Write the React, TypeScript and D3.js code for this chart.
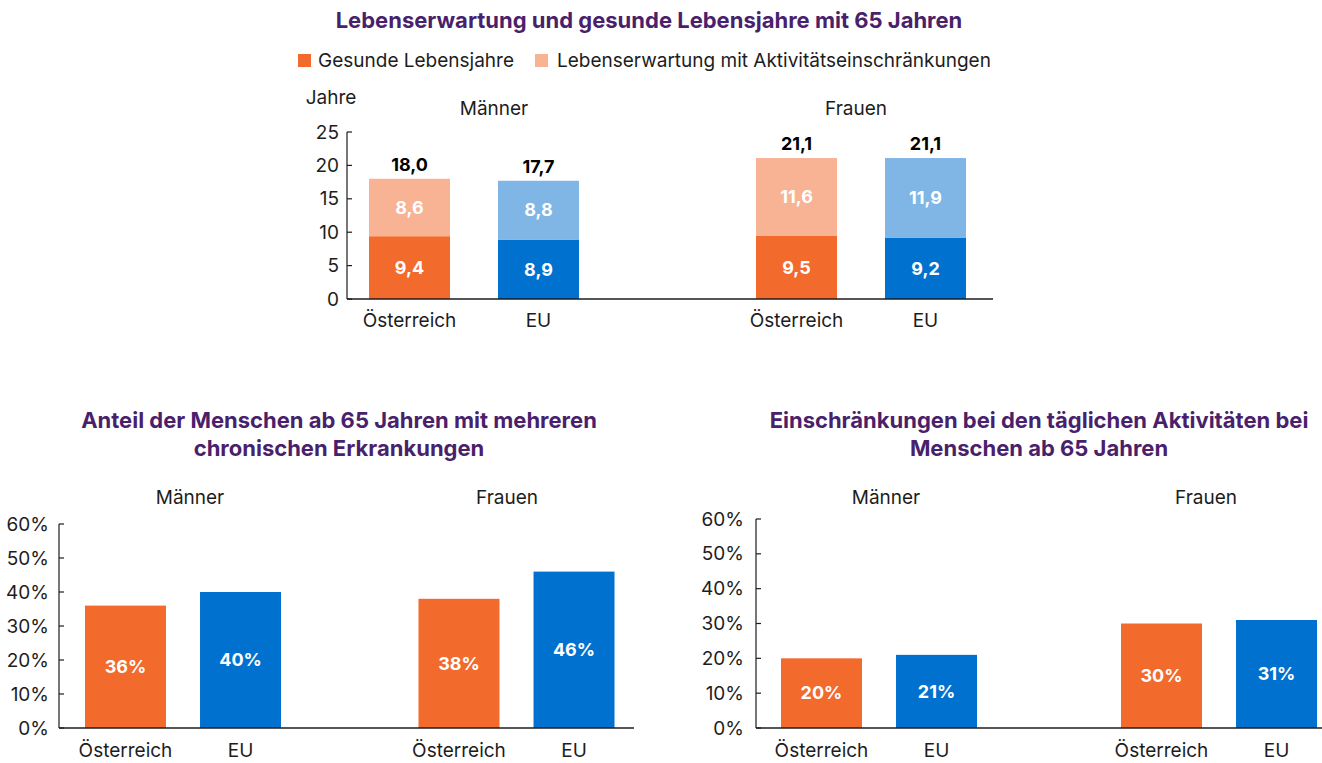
import React from "react";
import * as d3 from "d3";

// ---------- data ----------
const categories = ["Österreich", "EU"];
const sexes = ["Männer", "Frauen"];

const healthyYearsMen = [9.4, 8.9];
const healthyYearsWomen = [9.5, 9.2];
const limitedYearsMen = [8.6, 8.8];
const limitedYearsWomen = [11.6, 11.9];

const chronicMen = [36, 40];
const chronicWomen = [38, 46];

const limitationMen = [20, 21];
const limitationWomen = [30, 31];

const yearTicks = [0, 5, 10, 15, 20, 25];
const pctTicks = [0, 10, 20, 30, 40, 50, 60];

const topTitle = "Lebenserwartung und gesunde Lebensjahre mit 65 Jahren";
const legendLabels = ["Gesunde Lebensjahre", "Lebenserwartung mit Aktivitätseinschränkungen"];
const leftTitle = ["Anteil der Menschen ab 65 Jahren mit mehreren", "chronischen Erkrankungen"];
const rightTitle = ["Einschränkungen bei den täglichen Aktivitäten bei", "Menschen ab 65 Jahren"];

// ---------- style ----------
const FONT = "Inter, Roboto, 'Noto Sans', sans-serif";
const PURPLE = "#4a1f6b";
const TEXT = "#1d1d1d";
const ORANGE = "#f26a2c";
const ORANGE_LIGHT = "#f8b294";
const BLUE = "#0071ce";
const BLUE_LIGHT = "#80b6e6";
const mainColors = [ORANGE, BLUE];
const lightColors = [ORANGE_LIGHT, BLUE_LIGHT];
const FS = 19;
const BFS = 18;
const TFS = 22;

const fmt = (v: number) => d3.format(".1f")(v).replace(".", ",");

function YAxis({ y, x, ticks, fmtTick, pad }: any) {
  const [r0, r1] = y.range();
  return (
    <g>
      <line x1={x} x2={x} y1={r0} y2={r1} stroke={TEXT} strokeWidth={1.2} />
      {ticks.map((t: number) => (
        <g key={t}>
          <line x1={x} x2={x + 5} y1={y(t)} y2={y(t)} stroke={TEXT} strokeWidth={1.2} />
          <text x={x - pad} y={y(t)} dy="0.35em" textAnchor="end" fontSize={FS} fill={TEXT} fontFamily={FONT}>
            {fmtTick(t)}
          </text>
        </g>
      ))}
    </g>
  );
}

function PercentPanel({ title, titleX, menVals, womenVals, axisX, axisEnd, yTop, groupCenters, groupLabelX, pad }: any) {
  const y = d3.scaleLinear().domain([0, 60]).range([728, yTop]);
  const outer = d3.scalePoint<string>().domain(sexes).range(groupCenters);
  const inner = d3.scaleBand<string>().domain(categories).range([-98, 98]).paddingInner(0.296).paddingOuter(0);
  const series = [menVals, womenVals];
  return (
    <g>
      {title.map((t: string, i: number) => (
        <text key={i} x={titleX} y={428 + i * 28} textAnchor="middle" fontSize={TFS} fontWeight={700} fill={PURPLE} fontFamily={FONT}>
          {t}
        </text>
      ))}
      {sexes.map((s, gi) => (
        <text key={s} x={groupLabelX[gi]} y={504} textAnchor="middle" fontSize={FS} fill={TEXT} fontFamily={FONT}>
          {s}
        </text>
      ))}
      <YAxis y={y} x={axisX} ticks={pctTicks} fmtTick={(t: number) => `${t}%`} pad={pad} />
      {sexes.map((s, gi) =>
        categories.map((c, ci) => {
          const v = series[gi][ci];
          const x0 = (outer(s) as number) + (inner(c) as number);
          const w = inner.bandwidth();
          return (
            <g key={s + c}>
              <rect x={x0} y={y(v)} width={w} height={y(0) - y(v)} fill={mainColors[ci]} />
              <text x={x0 + w / 2} y={(y(v) + y(0)) / 2} dy="0.35em" textAnchor="middle" fontSize={BFS} fontWeight={700} fill="#fff" fontFamily={FONT}>
                {v}%
              </text>
              <text x={x0 + w / 2} y={757} textAnchor="middle" fontSize={FS} fill={TEXT} fontFamily={FONT}>
                {c}
              </text>
            </g>
          );
        })
      )}
      <line x1={axisX} x2={axisEnd} y1={y(0)} y2={y(0)} stroke={TEXT} strokeWidth={1.5} />
    </g>
  );
}

export default function App() {
  // top chart
  const yTop = d3.scaleLinear().domain([0, 25]).range([299, 132]);
  const outerTop = d3.scalePoint<string>().domain(sexes).range([474, 861]);
  const innerTop = d3.scaleBand<string>().domain(categories).range([-105, 105]).paddingInner(0.372).paddingOuter(0);
  const healthy = [healthyYearsMen, healthyYearsWomen];
  const limited = [limitedYearsMen, limitedYearsWomen];
  const topGroupLabelX = [494, 856];

  return (
    <svg width={1322} height={763} style={{ position: "absolute", left: 0, top: 0 }} fontFamily={FONT}>
      <rect width={1322} height={763} fill="#fff" />
      {/* Title */}
      <text x={649} y={28} textAnchor="middle" fontSize={TFS} fontWeight={700} fill={PURPLE}>
        {topTitle}
      </text>
      {/* Legend */}
      <rect x={298} y={54} width={13} height={13} fill={ORANGE} />
      <text x={318} y={67} fontSize={FS} fill={TEXT}>{legendLabels[0]}</text>
      <rect x={535} y={54} width={13} height={13} fill={ORANGE_LIGHT} />
      <text x={557} y={67} fontSize={FS} fill={TEXT}>{legendLabels[1]}</text>

      <text x={331} y={104} textAnchor="middle" fontSize={FS} fill={TEXT}>Jahre</text>
      {sexes.map((s, gi) => (
        <text key={s} x={topGroupLabelX[gi]} y={115} textAnchor="middle" fontSize={FS} fill={TEXT}>
          {s}
        </text>
      ))}
      <YAxis y={yTop} x={347} ticks={yearTicks} fmtTick={(t: number) => `${t}`} pad={8} />
      {sexes.map((s, gi) =>
        categories.map((c, ci) => {
          const h = healthy[gi][ci];
          const l = limited[gi][ci];
          const x0 = (outerTop(s) as number) + (innerTop(c) as number);
          const w = innerTop.bandwidth();
          return (
            <g key={s + c}>
              <rect x={x0} y={yTop(h)} width={w} height={yTop(0) - yTop(h)} fill={mainColors[ci]} />
              <rect x={x0} y={yTop(h + l)} width={w} height={yTop(h) - yTop(h + l)} fill={lightColors[ci]} />
              <text x={x0 + w / 2} y={(yTop(h) + yTop(0)) / 2} dy="0.35em" textAnchor="middle" fontSize={BFS} fontWeight={700} fill="#fff">
                {fmt(h)}
              </text>
              <text x={x0 + w / 2} y={(yTop(h + l) + yTop(h)) / 2} dy="0.35em" textAnchor="middle" fontSize={BFS} fontWeight={700} fill="#fff">
                {fmt(l)}
              </text>
              <text x={x0 + w / 2} y={yTop(h + l) - 8} textAnchor="middle" fontSize={BFS} fontWeight={700} fill="#000">
                {fmt(h + l)}
              </text>
              <text x={x0 + w / 2} y={327} textAnchor="middle" fontSize={FS} fill={TEXT}>
                {c}
              </text>
            </g>
          );
        })
      )}
      <line x1={347} x2={993} y1={yTop(0)} y2={yTop(0)} stroke={TEXT} strokeWidth={1.5} />

      <PercentPanel
        title={leftTitle}
        titleX={339}
        menVals={chronicMen}
        womenVals={chronicWomen}
        axisX={59}
        axisEnd={634}
        yTop={524}
        groupCenters={[183, 516.5]}
        groupLabelX={[190, 507]}
        pad={10}
      />
      <PercentPanel
        title={rightTitle}
        titleX={1039}
        menVals={limitationMen}
        womenVals={limitationWomen}
        axisX={756}
        axisEnd={1322}
        yTop={519}
        groupCenters={[879, 1219]}
        groupLabelX={[886, 1206]}
        pad={12}
      />
    </svg>
  );
}
